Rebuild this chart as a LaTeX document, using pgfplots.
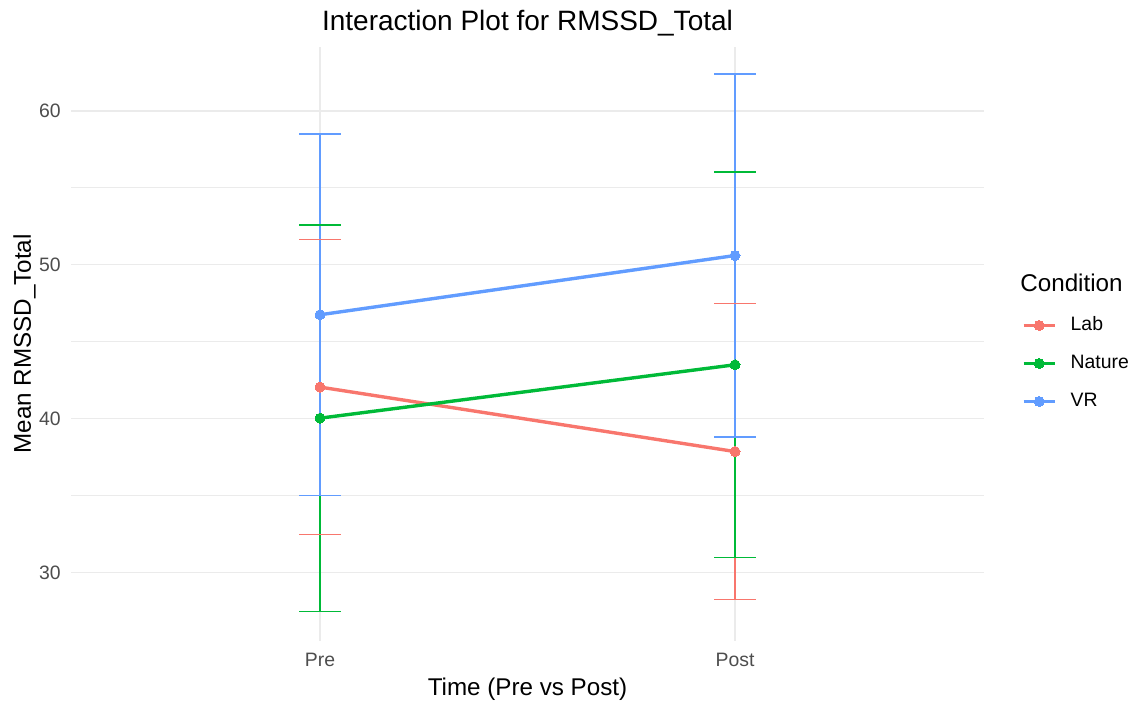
\documentclass[border=0pt]{standalone}
\usepackage{fontspec}
\setmainfont{Liberation Sans}
\usepackage{pgfplots}
\pgfplotsset{compat=1.18}
\usepackage{pgfplotstable}
\definecolor{lab}{HTML}{F8766D}
\definecolor{nat}{HTML}{00BA38}
\definecolor{vr}{HTML}{619CFF}
\definecolor{gridc}{HTML}{EBEBEB}
\definecolor{tickc}{HTML}{4D4D4D}

\pgfplotstableread{
x y ep em
1 42.05 9.58 9.58
2 37.86 9.61 9.61
}\labdata
\pgfplotstableread{
x y ep em
1 40.03 12.56 12.56
2 43.50 12.53 12.53
}\natdata
\pgfplotstableread{
x y ep em
1 46.75 11.75 11.75
2 50.60 11.79 11.79
}\vrdata

\pgfplotsset{
  ebar/.style={forget plot, draw=none, mark=none,
    error bars/.cd, y dir=both, y explicit, error mark=none,
    error bar style={draw=#1, line width=0.7pt}},
  ecap/.style={forget plot, draw=none, mark=none,
    error bars/.cd, x dir=both, x fixed=0.05, error mark=none,
    error bar style={draw=#1, line width=0.8pt}},
}

\begin{document}
\begin{tikzpicture}
\begin{axis}[
  scale only axis, width=456.5pt, height=297pt,
  xmin=0.4, xmax=2.6, ymin=25.55, ymax=64.15,
  xtick={1,2}, xticklabels={Pre,Post},
  ytick={30,40,50,60}, minor ytick={35,45,55},
  grid=both,
  major grid style={draw=gridc, line width=0.7pt},
  minor grid style={draw=gridc, line width=0.4pt},
  axis line style={draw=none},
  major tick length=0pt, minor tick length=0pt,
  tick label style={font=\fontsize{9.7}{11}\selectfont, text=tickc},
  /pgf/number format/assume math mode=true,
  yticklabel style={inner sep=0pt, xshift=-5pt},
  xticklabel style={inner sep=0pt, yshift=-6pt},
  every axis title shift=0pt,
  title={Interaction Plot for RMSSD\_Total},
  title style={at={(axis description cs:0.5,1)}, anchor=base, yshift=8pt, inner sep=0pt, font=\fontsize{14}{16}\selectfont},
  xlabel={Time (Pre vs Post)},
  xlabel style={at={(axis description cs:0.5,0)}, anchor=base, yshift=-27pt, inner sep=0pt, font=\fontsize{12.1}{14}\selectfont},
  ylabel={Mean RMSSD\_Total},
  ylabel style={at={(axis description cs:0,0.5)}, anchor=base, yshift=20pt, inner sep=0pt, font=\fontsize{12.1}{14}\selectfont},
  legend style={at={(axis description cs:1.0416,0.4672)}, anchor=west, draw=none, fill=none,
    inner sep=0pt, outer sep=0pt, row sep=10pt, column sep=0pt,
    font=\fontsize{9.7}{11}\selectfont,
    nodes={inner sep=0pt, text height=7pt, text depth=2pt}},
  legend cell align=left,
  legend image code/.code={\draw[#1, mark repeat=2, mark phase=2] plot coordinates {(0pt,0pt) (7.75pt,0pt) (15.5pt,0pt)} (15.5pt,0pt) node[right, inner sep=0pt, text height=0pt, text depth=0pt, minimum width=8pt] {};},
  clip=false,
]
% error bars: vertical parts
\addplot[ebar=lab] table[x=x, y=y, y error plus=ep, y error minus=em]{\labdata};
\addplot[ebar=nat] table[x=x, y=y, y error plus=ep, y error minus=em]{\natdata};
\addplot[ebar=vr]  table[x=x, y=y, y error plus=ep, y error minus=em]{\vrdata};
% error bars: caps
\addplot[ecap=lab] table[x=x, y expr=\thisrow{y}+\thisrow{ep}]{\labdata};
\addplot[ecap=lab] table[x=x, y expr=\thisrow{y}-\thisrow{em}]{\labdata};
\addplot[ecap=nat] table[x=x, y expr=\thisrow{y}+\thisrow{ep}]{\natdata};
\addplot[ecap=nat] table[x=x, y expr=\thisrow{y}-\thisrow{em}]{\natdata};
\addplot[ecap=vr]  table[x=x, y expr=\thisrow{y}+\thisrow{ep}]{\vrdata};
\addplot[ecap=vr]  table[x=x, y expr=\thisrow{y}-\thisrow{em}]{\vrdata};
% lines
\addplot[lab, line width=1.7pt, mark=*, mark size=2.5pt, mark options={solid, fill=lab, draw=lab, line width=0pt}]
  table[x=x, y=y]{\labdata};
\addlegendentry{Lab}
\addplot[nat, line width=1.7pt, mark=*, mark size=2.5pt, mark options={solid, fill=nat, draw=nat, line width=0pt}]
  table[x=x, y=y]{\natdata};
\addlegendentry{Nature}
\addplot[vr, line width=1.7pt, mark=*, mark size=2.5pt, mark options={solid, fill=vr, draw=vr, line width=0pt}]
  table[x=x, y=y]{\vrdata};
\addlegendentry{VR}
\node[anchor=west, inner sep=0pt, font=\fontsize{12.1}{14}\selectfont] at (axis description cs:1.0394,0.6027) {Condition};
\end{axis}
\pgfresetboundingbox
\path[use as bounding box] ([shift={(-35.5pt,-30.5pt)}]current axis.south west) rectangle ([shift={(531.5pt,320.5pt)}]current axis.south west);
\end{tikzpicture}
\end{document}
